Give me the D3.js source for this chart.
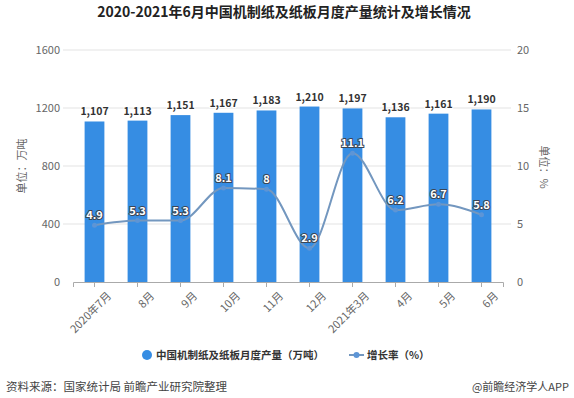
<!DOCTYPE html>
<html>
<head>
<meta charset="utf-8">
<script src="https://cdn.jsdelivr.net/npm/d3@7"></script>
<style>
  body { margin: 0; background: #fff; }
  svg { font-family: "Noto Sans CJK SC", "Noto Sans", sans-serif; }
</style>
</head>
<body>
<div id="chart"></div>
<script>
// data
const months = ["2020年7月", "8月", "9月", "10月", "11月", "12月", "2021年3月", "4月", "5月", "6月"];
const output = [1107, 1113, 1151, 1167, 1183, 1210, 1197, 1136, 1161, 1190];
const growth = [4.9, 5.3, 5.3, 8.1, 8, 2.9, 11.1, 6.2, 6.7, 5.8];
const leftTicks = [0, 400, 800, 1200, 1600];
const rightTicks = [0, 5, 10, 15, 20];

const w = 574, h = 398;
const barColor = "#368de3";
const lineColor = "#7397bf";

const svg = d3.select("#chart").append("svg")
  .attr("width", w)
  .attr("height", h);

const x = d3.scaleBand()
  .domain(months)
  .range([73, 503])
  .paddingInner(0.54)
  .paddingOuter(0.27);

const yL = d3.scaleLinear().domain([0, 1600]).range([282, 50]);
const yR = d3.scaleLinear().domain([0, 20]).range([282, 50]);

// title
svg.append("text")
  .attr("x", 284)
  .attr("y", 17)
  .attr("text-anchor", "middle")
  .attr("font-size", "14px")
  .attr("font-weight", "bold")
  .attr("fill", "#222")
  .text("2020-2021年6月中国机制纸及纸板月度产量统计及增长情况");

// grid lines
svg.append("g")
  .selectAll("line")
  .data(leftTicks.slice(1))
  .enter()
  .append("line")
  .attr("x1", 63)
  .attr("x2", 511)
  .attr("y1", d => yL(d))
  .attr("y2", d => yL(d))
  .attr("stroke", "#e3e3e3");

// left axis
const leftAxis = svg.append("g")
  .attr("transform", "translate(63,0)")
  .call(d3.axisLeft(yL).tickValues(leftTicks).tickFormat(d3.format("d")).tickSize(0).tickPadding(3));
leftAxis.select(".domain").remove();
leftAxis.selectAll("text").attr("font-size", "11px").attr("fill", "#666")
  .attr("font-family", "'Noto Sans CJK SC', sans-serif");

// right axis
const rightAxis = svg.append("g")
  .attr("transform", "translate(512,0)")
  .call(d3.axisRight(yR).tickValues(rightTicks).tickSize(0).tickPadding(5));
rightAxis.select(".domain").remove();
rightAxis.selectAll("text").attr("font-size", "11px").attr("fill", "#666")
  .attr("font-family", "'Noto Sans CJK SC', sans-serif");

// axis titles
svg.append("text")
  .attr("transform", "translate(26,166) rotate(-90)")
  .attr("text-anchor", "middle")
  .attr("font-size", "11px")
  .attr("fill", "#666")
  .text("单位：万吨");

svg.append("text")
  .attr("transform", "translate(540,167) rotate(90)")
  .attr("text-anchor", "middle")
  .attr("font-size", "11px")
  .attr("fill", "#666")
  .text("单位：%");

// bars
svg.append("g")
  .selectAll("rect")
  .data(output)
  .enter()
  .append("rect")
  .attr("x", (d, i) => x(months[i]))
  .attr("width", x.bandwidth())
  .attr("y", d => yL(d))
  .attr("height", d => yL(0) - yL(d))
  .attr("fill", barColor);

// x axis
const xAxis = svg.append("g")
  .attr("transform", "translate(0,282)")
  .call(d3.axisBottom(x).tickSize(5).tickPadding(5));
xAxis.select(".domain").attr("stroke", "#aaa");
xAxis.selectAll(".tick line").attr("stroke", "#aaa");
xAxis.selectAll("text")
  .attr("font-size", "11px")
  .attr("fill", "#666")
  .attr("font-family", "'Noto Sans CJK SC', sans-serif")
  .attr("text-anchor", "end")
  .attr("transform", "translate(5,2) rotate(-45)");

// bar value labels
svg.append("g")
  .selectAll("text")
  .data(output)
  .enter()
  .append("text")
  .attr("x", (d, i) => x(months[i]) + x.bandwidth() / 2)
  .attr("y", d => yL(d) - 6)
  .attr("text-anchor", "middle")
  .attr("font-size", "10.5px")
  .attr("font-weight", "bold")
  .attr("fill", "#333")
  .attr("stroke", "#fff")
  .attr("stroke-width", 2)
  .attr("paint-order", "stroke")
  .text(d => d3.format(",")(d));

// growth line
const line = d3.line()
  .x((d, i) => x(months[i]) + x.bandwidth() / 2)
  .y(d => yR(d))
  .curve(d3.curveMonotoneX);

svg.append("path")
  .datum(growth)
  .attr("d", line)
  .attr("fill", "none")
  .attr("stroke", lineColor)
  .attr("stroke-width", 2);

svg.append("g")
  .selectAll("circle")
  .data(growth)
  .enter()
  .append("circle")
  .attr("cx", (d, i) => x(months[i]) + x.bandwidth() / 2)
  .attr("cy", d => yR(d))
  .attr("r", 2.5)
  .attr("fill", "#5d95d6");

svg.append("g")
  .selectAll("text")
  .data(growth)
  .enter()
  .append("text")
  .attr("x", (d, i) => x(months[i]) + x.bandwidth() / 2)
  .attr("y", d => yR(d) - 6)
  .attr("text-anchor", "middle")
  .attr("font-size", "11px")
  .attr("font-weight", "bold")
  .attr("fill", "#fff")
  .attr("stroke", "#3a4656")
  .attr("stroke-width", 2)
  .attr("paint-order", "stroke")
  .text(d => d);

// legend
const legend = svg.append("g").attr("font-size", "10.5px").attr("fill", "#333").attr("font-weight", "bold");
legend.append("circle").attr("cx", 147).attr("cy", 355).attr("r", 5).attr("fill", barColor);
legend.append("text").attr("x", 156).attr("y", 359).text("中国机制纸及纸板月度产量（万吨）");
legend.append("line").attr("x1", 349).attr("x2", 364).attr("y1", 355).attr("y2", 355)
  .attr("stroke", lineColor).attr("stroke-width", 2);
legend.append("circle").attr("cx", 356.5).attr("cy", 355).attr("r", 3).attr("fill", "#5d95d6");
legend.append("text").attr("x", 367).attr("y", 359).text("增长率（%）");

// footer
svg.append("text")
  .attr("x", 6)
  .attr("y", 391)
  .attr("font-size", "11.5px")
  .attr("fill", "#444")
  .text("资料来源：国家统计局 前瞻产业研究院整理");

svg.append("text")
  .attr("x", 569)
  .attr("y", 391)
  .attr("text-anchor", "end")
  .attr("font-size", "11px")
  .attr("fill", "#444")
  .text("@前瞻经济学人APP");
</script>
</body>
</html>
